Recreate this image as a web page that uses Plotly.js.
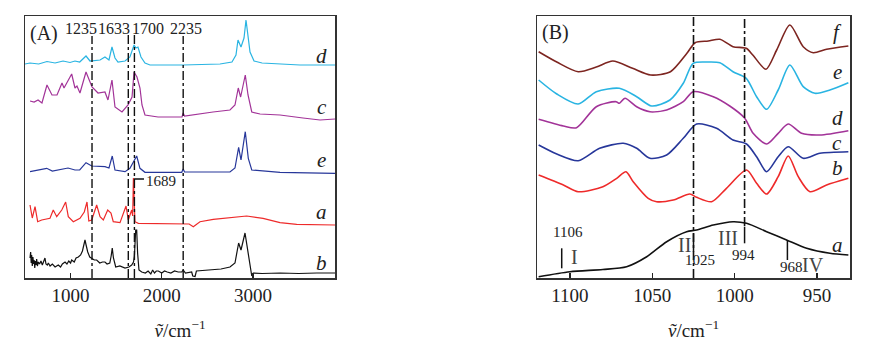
<!DOCTYPE html>
<html><head><meta charset="utf-8">
<script src="https://cdn.plot.ly/plotly-3.0.1.min.js"></script>
<style>body{margin:0;background:#fff}#chart{width:872px;height:354px}</style>
</head><body><div id="chart"></div>
<script>
// ---------- Panel A (wavenumber / cm-1, offset intensity) ----------
const A_d_x = [500,555,650,741,830,917,994,1048,1100,1169,1213,1323,1377,1421,1454,1487,1520,1597,1651,1696,1717,1739,1772,1816,1871,2233,2639,2770,2814,2836,2869,2902,2924,2946,2968,3012,3100,3516,3900];
const A_d_y = [214,215,214,216.5,215,217,215.5,217,216,222,217,218,221,218,231,220,216,217,221,233,230,231,221,215,213,213,214,216,223,238,231,240,258,240,226,217,215,213,213];

const A_c_x = [555,600,643,686,741,796,851,906,928,972,1012,1048,1070,1103,1169,1235,1301,1377,1410,1454,1487,1564,1630,1674,1696,1728,1761,1783,1816,1959,2222,2235,2250,2562,2748,2803,2839,2865,2916,2946,2987,3078,3297,3549,3736,3900];
const A_c_y = [177,176,178,175,193,183,183,195,190,198,204,190,192,185,206,191,185,186,178,198,171,166,173,181,206,201,190,173,163,161,161,165,162,166,168,173,190,181,203,183,166,164,163,160,158,159];

const A_e_x = [555,738,800,903,972,1048,1100,1169,1232,1377,1421,1457,1487,1597,1651,1725,1761,1816,2219,2235,2250,2748,2803,2843,2869,2916,2949,2987,3297,3900];
const A_e_y = [106.3,109.7,107,108.7,110,108,108,115.3,112,111.3,110,122,108,106.3,109.7,122,109.7,105.7,105.7,109,106,106,110,130.7,118,146.3,119.7,108,105.7,104.7];

const A_a_x = [555,580,610,639,683,774,810,848,903,946,975,1030,1103,1150,1180,1200,1232,1286,1323,1359,1407,1443,1468,1542,1608,1633,1670,1681,1689,1698,1706,1743,2219,2300,2346,2419,2565,2931,3111,3297,3480,3900];
const A_a_y = [73,60,71.3,56.3,58,59.7,68,61.3,68,76,61.3,56.3,59.7,66,76,57,58,73,61.3,58,68,65,56.3,55.3,72,58,68,62,100,60,56.3,54.7,53.7,54,51.3,56.3,58.7,62,59.7,55.3,53.7,53];

const A_b_x = [555,562,568,573,580,587,594,600,607,614,621,628,636,646,660,675,690,705,719,730,745,756,775,800,830,865,890,910,939,960,980,1000,1012,1040,1060,1085,1110,1130,1145,1158,1170,1188,1210,1232,1260,1286,1320,1350,1377,1400,1430,1445,1457,1470,1495,1540,1597,1640,1670,1690,1700,1714,1725,1735,1750,1780,1820,1850,1880,1900,1920,1940,1962,2000,2030,2060,2100,2140,2180,2219,2235,2260,2300,2328,2340,2365,2380,2500,2650,2748,2803,2843,2869,2913,2949,2976,2987,3004,3100,3300,3500,3700,3900];
const A_b_y = [20,26,15,23,12,21,14,18,10,17,13,19,12,16,14,17,13,16,20,14,13,15,12,14,11,13,11,14,16,14,17,15,18,16,20,21,23,27,34,38,33,26,21,20,18,18,15,16,16,14,15,22,30,20,11,12,10,11,13,16,22,48,48,25,8,6,5,7,4,8,5,7,7,5,7,6,5,7,6,6,8,5,6,6,2,1.5,7,8,9,11,15,35,28,45,25,6,2,5,4.5,5,4.5,5,5];

// ---------- Panel B ----------
const B_f_x = [1119,1108,1095,1084,1074,1062,1051,1039,1029,1024,1016,1009,1001,993,989,981,974.5,966.5,958.4,952.3,944.2,931];
const B_f_y = [226.3,216,206.3,211,217,209.7,203,206.3,224.7,235.3,237,238.7,231.3,229.7,223,208.7,228,253,231.3,225.3,228.7,232];

const B_e_x = [1119,1108,1095,1084,1070,1059.5,1050.4,1039.3,1031.2,1025.2,1017,1009,1001,993,986.7,980.6,973.6,966.5,958.4,951.3,942.2,931];
const B_e_y = [198,184,174,186.3,189.7,181.3,172,178,194.7,214.7,216,215.3,206.3,199.7,181.3,168.7,188,213,191.3,184.7,188,195.3];

const B_d_x = [1119,1104,1096,1084,1072,1070,1066.6,1059.5,1051.4,1041.3,1031.2,1025.2,1013,1003,994,988.8,980.6,973.6,967.5,959.4,948.3,931];
const B_d_y = [158.7,152,150.3,171.3,176.3,174.7,179.7,171.3,166.3,168,176.3,186.3,181.3,172,160,144.7,134,144.7,154,144.7,143,147.3];

const B_c_x = [1119,1108,1095,1082,1067.6,1059.5,1051.4,1041.3,1031.2,1023.1,1011,1001,992.8,986.7,980.6,973.6,967.5,958.4,948.3,931];
const B_c_y = [133,124,117.3,129.7,134.7,129.7,119.7,123,139.7,154,149.7,138,134,121.3,106.3,121.3,131.3,119.7,124.7,126.3];

const B_b_x = [1119,1104,1095,1080,1071.6,1066,1061.6,1052.5,1047.4,1037.3,1027.2,1023.1,1014,1005,992.8,986.7,980.6,973.6,967.5,961.4,954.3,944.2,931];
const B_b_y = [103,93,86.3,91.3,99.7,106.3,96.3,79.7,76.3,78,84,80.7,76.3,89.7,108,94.7,84,101.3,122,101.3,86.3,93,99.7];

const B_a_x = [1119,1100,1080,1065.6,1053.4,1041.3,1029.2,1023.1,1013,1001,992.8,980.6,968.5,956.3,942.2,931];
const B_a_y = [1.3,6.3,8.5,11.3,21.3,36.3,46.3,48,53,56.3,54.7,46.3,38,29.7,24.7,23];

// labels / markers
const A_lines = [1235,1633,1700,2235];
const A_lineLabels = ["1235","1633","1700","2235"];
const B_lines = [1025,994];
const B_bands = [1105,1025,994,968];
const B_bandLabels = ["1106","1025","994","968"];
const B_roman = ["I","II","III","IV"];
const A_ticks = [1000,2000,3000];
const B_ticks = [1100,1050,1000,950];

const FONT = "Liberation Serif, Times New Roman, serif";
const col = {cyan:"#29B4E2", mag:"#A23398", blue:"#27379A", red:"#EE2A2A", black:"#111111", brown:"#7D2520"};

function tr(x,y,c,ax,w,shape){
  return {x:x,y:y,mode:"lines",type:"scatter",xaxis:ax==="A"?"x":"x2",yaxis:ax==="A"?"y":"y2",
    line:{color:c,width:w,shape:shape||"linear",smoothing:0.75},hoverinfo:"skip",showlegend:false};
}
const data = [
  tr(A_d_x,A_d_y,col.cyan,"A",1.2),
  tr(A_c_x,A_c_y,col.mag,"A",1.2),
  tr(A_e_x,A_e_y,col.blue,"A",1.2),
  tr(A_a_x,A_a_y,col.red,"A",1.2),
  tr(A_b_x,A_b_y,col.black,"A",1.2),
  tr(B_f_x,B_f_y,col.brown,"B",1.6,"spline"),
  tr(B_e_x,B_e_y,col.cyan,"B",1.6,"spline"),
  tr(B_d_x,B_d_y,col.mag,"B",1.6,"spline"),
  tr(B_c_x,B_c_y,col.blue,"B",1.6,"spline"),
  tr(B_b_x,B_b_y,col.red,"B",1.6,"spline"),
  tr(B_a_x,B_a_y,col.black,"B",1.6,"spline")
];

const shapes = [];
A_lines.forEach((v,i)=>{
  shapes.push({type:"line",xref:"x",yref:"y",x0:v,x1:v,y0:0,y1:(i===1||i===2)?245:242,
    line:{color:"#111",width:1.4,dash:"dashdot"}});
});
B_lines.forEach((v,i)=>{
  shapes.push({type:"line",xref:"x2",yref:"y2",x0:v,x1:v,y0:i===0?0:52,y1:262,
    line:{color:"#111",width:1.6,dash:"dashdot"}});
});
const bandY = [[9.7,29.7],[26.3,44.7],[34.7,51.3],[18,38]];
B_bands.forEach((v,i)=>{
  shapes.push({type:"line",xref:"x2",yref:"y2",x0:v,x1:v,y0:bandY[i][0],y1:bandY[i][1],line:{color:"#111",width:1.5}});
});
shapes.push({type:"line",xref:"x",yref:"y",x0:1696,x1:1805,y0:99,y1:99,line:{color:"#111",width:1.5}});

const ann = [];
function txt(x,y,ax,t,size,color){
  ann.push({x:x,y:y,xref:ax==="A"?"x":"x2",yref:ax==="A"?"y":"y2",text:t,showarrow:false,
    font:{family:FONT,size:size,color:color||"#222"},xanchor:"center",yanchor:"middle"});
}
txt(708,245,"A","(A)",20);
const A_lblX = [1114,1476,1844,2263];
A_lineLabels.forEach((t,i)=>txt(A_lblX[i],250,"A",t,16));
txt(1992,97.3,"A","1689",15);
const A_letterY = [222,171.3,118,66.3,14.7];
["d","c","e","a","b"].forEach((t,i)=>txt(3754,A_letterY[i],"A","<i>"+t+"</i>",21));

txt(1108.5,246,"B","(B)",20);
const B_letterY = [["f",246.3],["e",206.3],["d",160],["c",134.7],["b",109.7],["a",33]];
B_letterY.forEach(p=>txt(937.6,p[1],"B","<i>"+p[0]+"</i>",21));
const bandLblPos = [[1101,46.3],[1021,18],[994.8,23],[965.4,11.3]];
B_bandLabels.forEach((t,i)=>txt(bandLblPos[i][0],bandLblPos[i][1],"B",t,15));
const romanPos = [[1097,21.3],[1030.2,33],[1004,39.7],[952.3,13]];
B_roman.forEach((t,i)=>txt(romanPos[i][0],romanPos[i][1],"B",t,20,"#444"));

function xa(dom,range,ticks){
  return {domain:dom,range:range,tickvals:ticks,ticktext:ticks.map(String),ticks:"inside",ticklen:5,tickwidth:1.2,tickcolor:"#222",
    showline:true,linecolor:"#333",linewidth:1.5,mirror:true,showgrid:false,zeroline:false,
    tickfont:{family:FONT,size:19,color:"#222"},
    title:{text:"<i>ṽ</i>/cm<sup>−1</sup>",font:{family:FONT,size:19,color:"#222"},standoff:18}};
}
function ya(anchor){
  return {anchor:anchor,range:[0,262],showline:true,linecolor:"#333",linewidth:1.5,mirror:true,showgrid:false,zeroline:false,
    showticklabels:false,ticks:""};
}
const layout = {
  width:872,height:354,margin:{l:25,r:22,t:16,b:76},paper_bgcolor:"#fff",plot_bgcolor:"#fff",
  xaxis:Object.assign(xa([0,0.37576],[500,3900],A_ticks),{anchor:"y"}),
  xaxis2:Object.assign(xa([0.62061,1],[1120,930],B_ticks),{anchor:"y2"}),
  yaxis:ya("x"), yaxis2:ya("x2"),
  shapes:shapes, annotations:ann, showlegend:false
};
Plotly.newPlot("chart",data,layout,{displayModeBar:false,staticPlot:true});
</script></body></html>
